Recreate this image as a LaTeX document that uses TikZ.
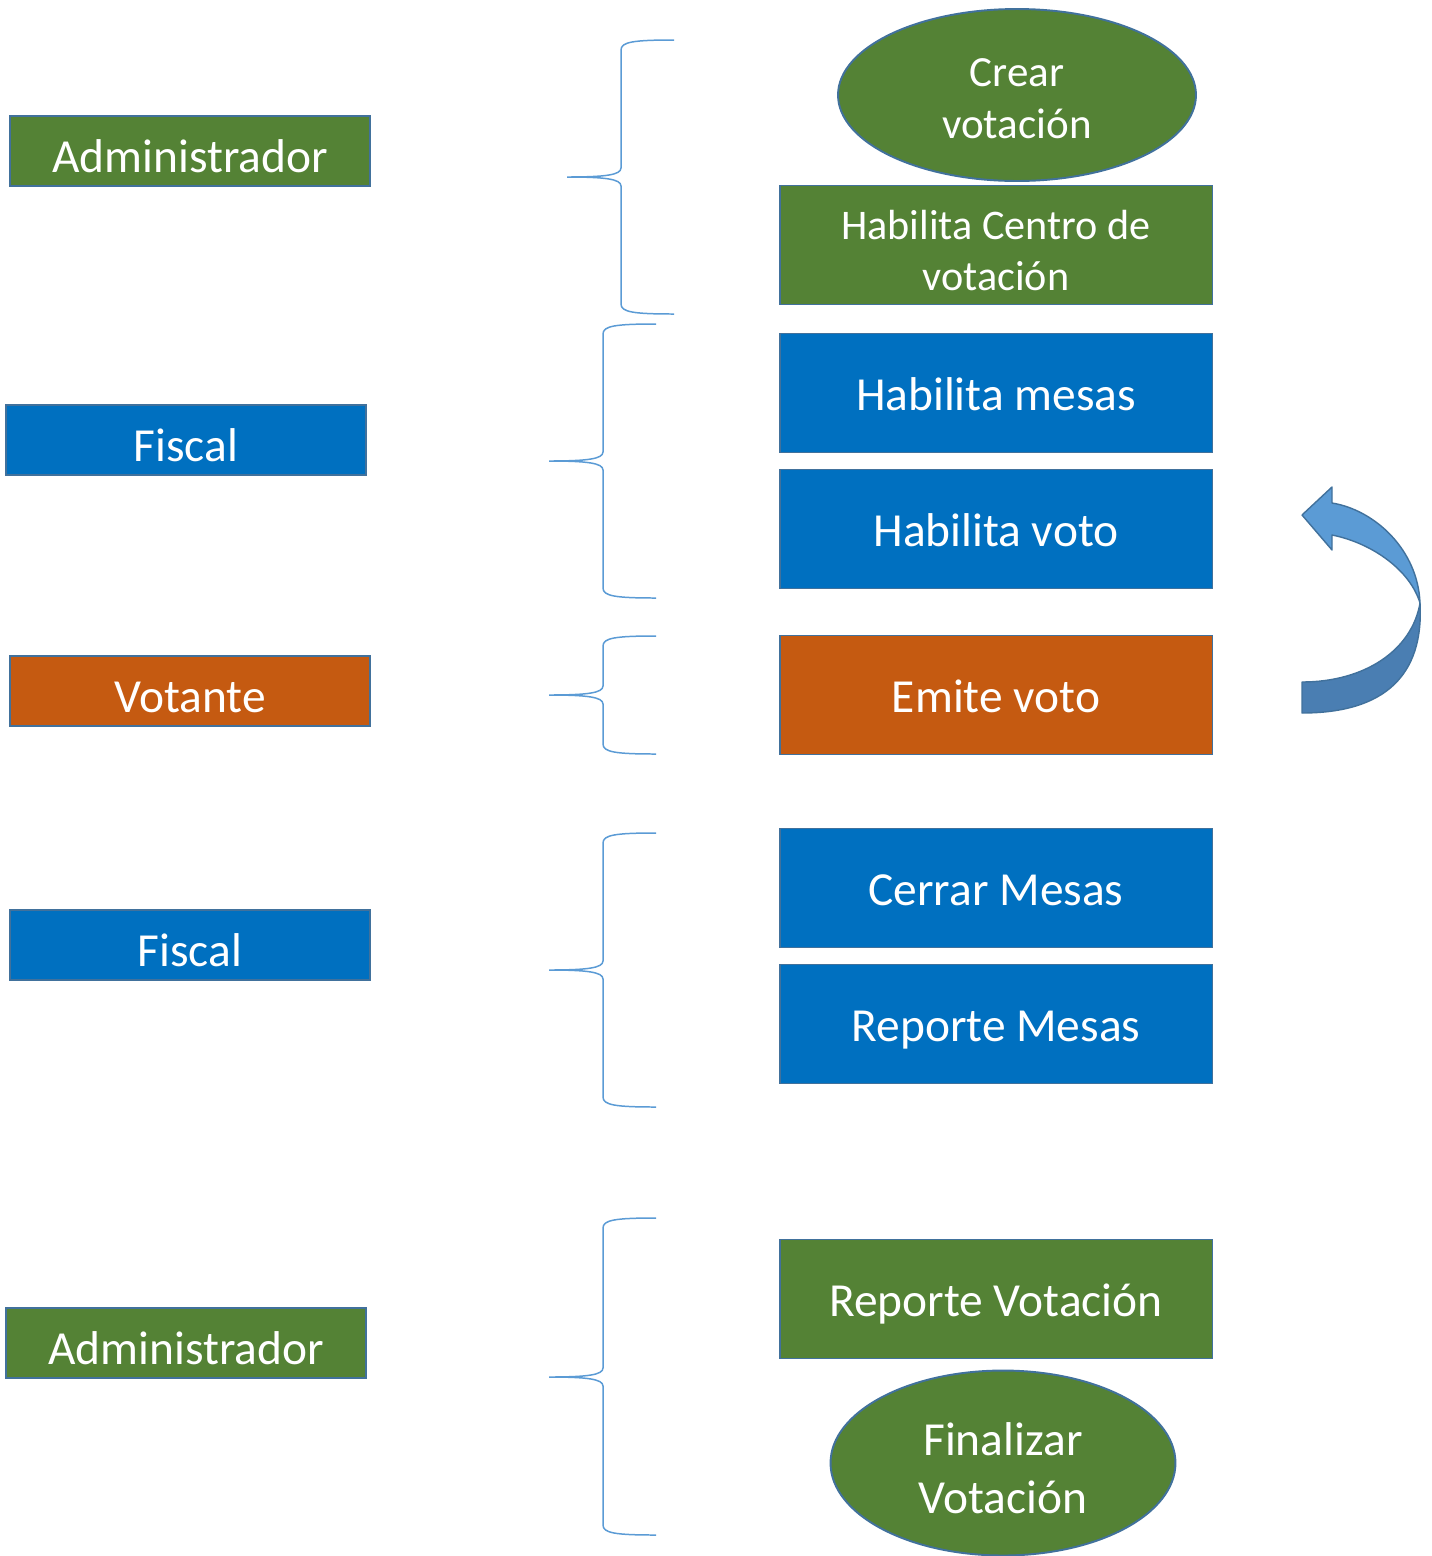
\documentclass[tikz,border=0pt]{standalone}
\usepackage{fontspec}
\setmainfont{Carlito}
\usetikzlibrary{shapes.geometric}

\definecolor{verde}{HTML}{548235}
\definecolor{azul}{HTML}{0070C0}
\definecolor{naranja}{HTML}{C55A11}
\definecolor{borde}{HTML}{41719C}
\definecolor{llavecol}{HTML}{5B9BD5}
\definecolor{flechaclara}{HTML}{5B9BD5}
\definecolor{flechaoscura}{HTML}{4A7EB2}

\tikzstyle{actor} = [rectangle, draw=borde, line width=1.1pt, text=white,
    minimum width=7.2cm, minimum height=1.4cm, inner sep=0pt,
    text height=24.6pt, text depth=0pt,
    font=\fontsize{27}{32}\selectfont]
\tikzstyle{paso} = [rectangle, draw=borde, line width=1.1pt, text=white,
    minimum width=8.66cm, minimum height=2.38cm, inner sep=0pt,
    text height=20pt, text depth=0pt,
    font=\fontsize{27}{32}\selectfont]
\tikzstyle{evento} = [ellipse, draw=borde, line width=1.1pt, fill=verde, inner sep=0pt]
\tikzstyle{texto} = [text=white, align=center, yshift=-0.11cm]
\tikzstyle{llave} = [draw=llavecol, line width=0.85pt]

% left brace: tip x, top y, middle y, bottom y
\newcommand{\llave}[4]{%
  \draw[llave] (#1+107,#2) .. controls (#1+66,#2) and (#1+54,#2+2) .. (#1+54,#2+10)
    -- (#1+54,#3-9) .. controls (#1+54,#3-2) and (#1+38,#3) .. (#1,#3)
    .. controls (#1+38,#3) and (#1+54,#3+2) .. (#1+54,#3+9)
    -- (#1+54,#4-10) .. controls (#1+54,#4-2) and (#1+66,#4) .. (#1+107,#4);}

\begin{document}
\begin{tikzpicture}[x=0.02cm, y=-0.02cm]
	\useasboundingbox (0,0) rectangle (1431,1556);
	% roles
	\node [actor, fill=verde] (admin) at (190,151) {Administrador};
	\node [actor, fill=azul] (fiscal) at (186,440) {Fiscal};
	\node [actor, fill=naranja] (votante) at (190,691) {Votante};
	\node [actor, fill=azul] (fiscalb) at (190,945) {Fiscal};
	\node [actor, fill=verde] (adminb) at (186,1343) {Administrador};
	%
	% steps
	\node [evento, minimum width=7.16cm, minimum height=3.44cm,
	  label={[texto, yshift=0.03cm, font=\fontsize{24.5}{29.5}\selectfont]center:Crear\\votación}]
	  (crear) at (1017,95) {};
	\node [paso, fill=verde,
	  label={[texto, font=\fontsize{24}{29.5}\selectfont]center:Habilita Centro de\\votación}]
	  (centro) at (996,245) {};
	\node [paso, fill=azul] (mesas) at (996,393) {Habilita mesas};
	\node [paso, fill=azul] (voto) at (996,529) {Habilita voto};
	\node [paso, fill=naranja] (emite) at (996,695) {Emite voto};
	\node [paso, fill=azul] (cerrar) at (996,888) {Cerrar Mesas};
	\node [paso, fill=azul] (reporte) at (996,1024) {Reporte Mesas};
	\node [paso, fill=verde] (repvot) at (996,1299) {Reporte Votación};
	\node [evento, minimum width=6.9cm, minimum height=3.7cm,
	  label={[texto, font=\fontsize{27}{33}\selectfont]center:Finalizar\\Votación}]
	  (final) at (1003,1463) {};
	%
	% braces
	\llave{567}{40}{177}{314}
	\llave{549}{324}{461}{598}
	\llave{549}{636}{695}{754}
	\llave{549}{833}{970}{1107}
	\llave{549}{1218}{1377}{1535}
	%
	% curved arrow
	\filldraw [fill=flechaoscura, draw=borde, line width=0.8pt, line join=round]
	  (1420,603) .. controls (1424,675) and (1385,713) .. (1302,713)
	  -- (1302,682) .. controls (1365,682) and (1412,650) .. (1420,603) -- cycle;
	\filldraw [fill=flechaclara, draw=borde, line width=0.8pt, line join=round]
	  (1302,515) -- (1332,487) -- (1332,503)
	  .. controls (1375,510) and (1418,550) .. (1420,603)
	  .. controls (1410,570) and (1372,543) .. (1332,535)
	  -- (1332,550) -- cycle;
\end{tikzpicture}
\end{document}
